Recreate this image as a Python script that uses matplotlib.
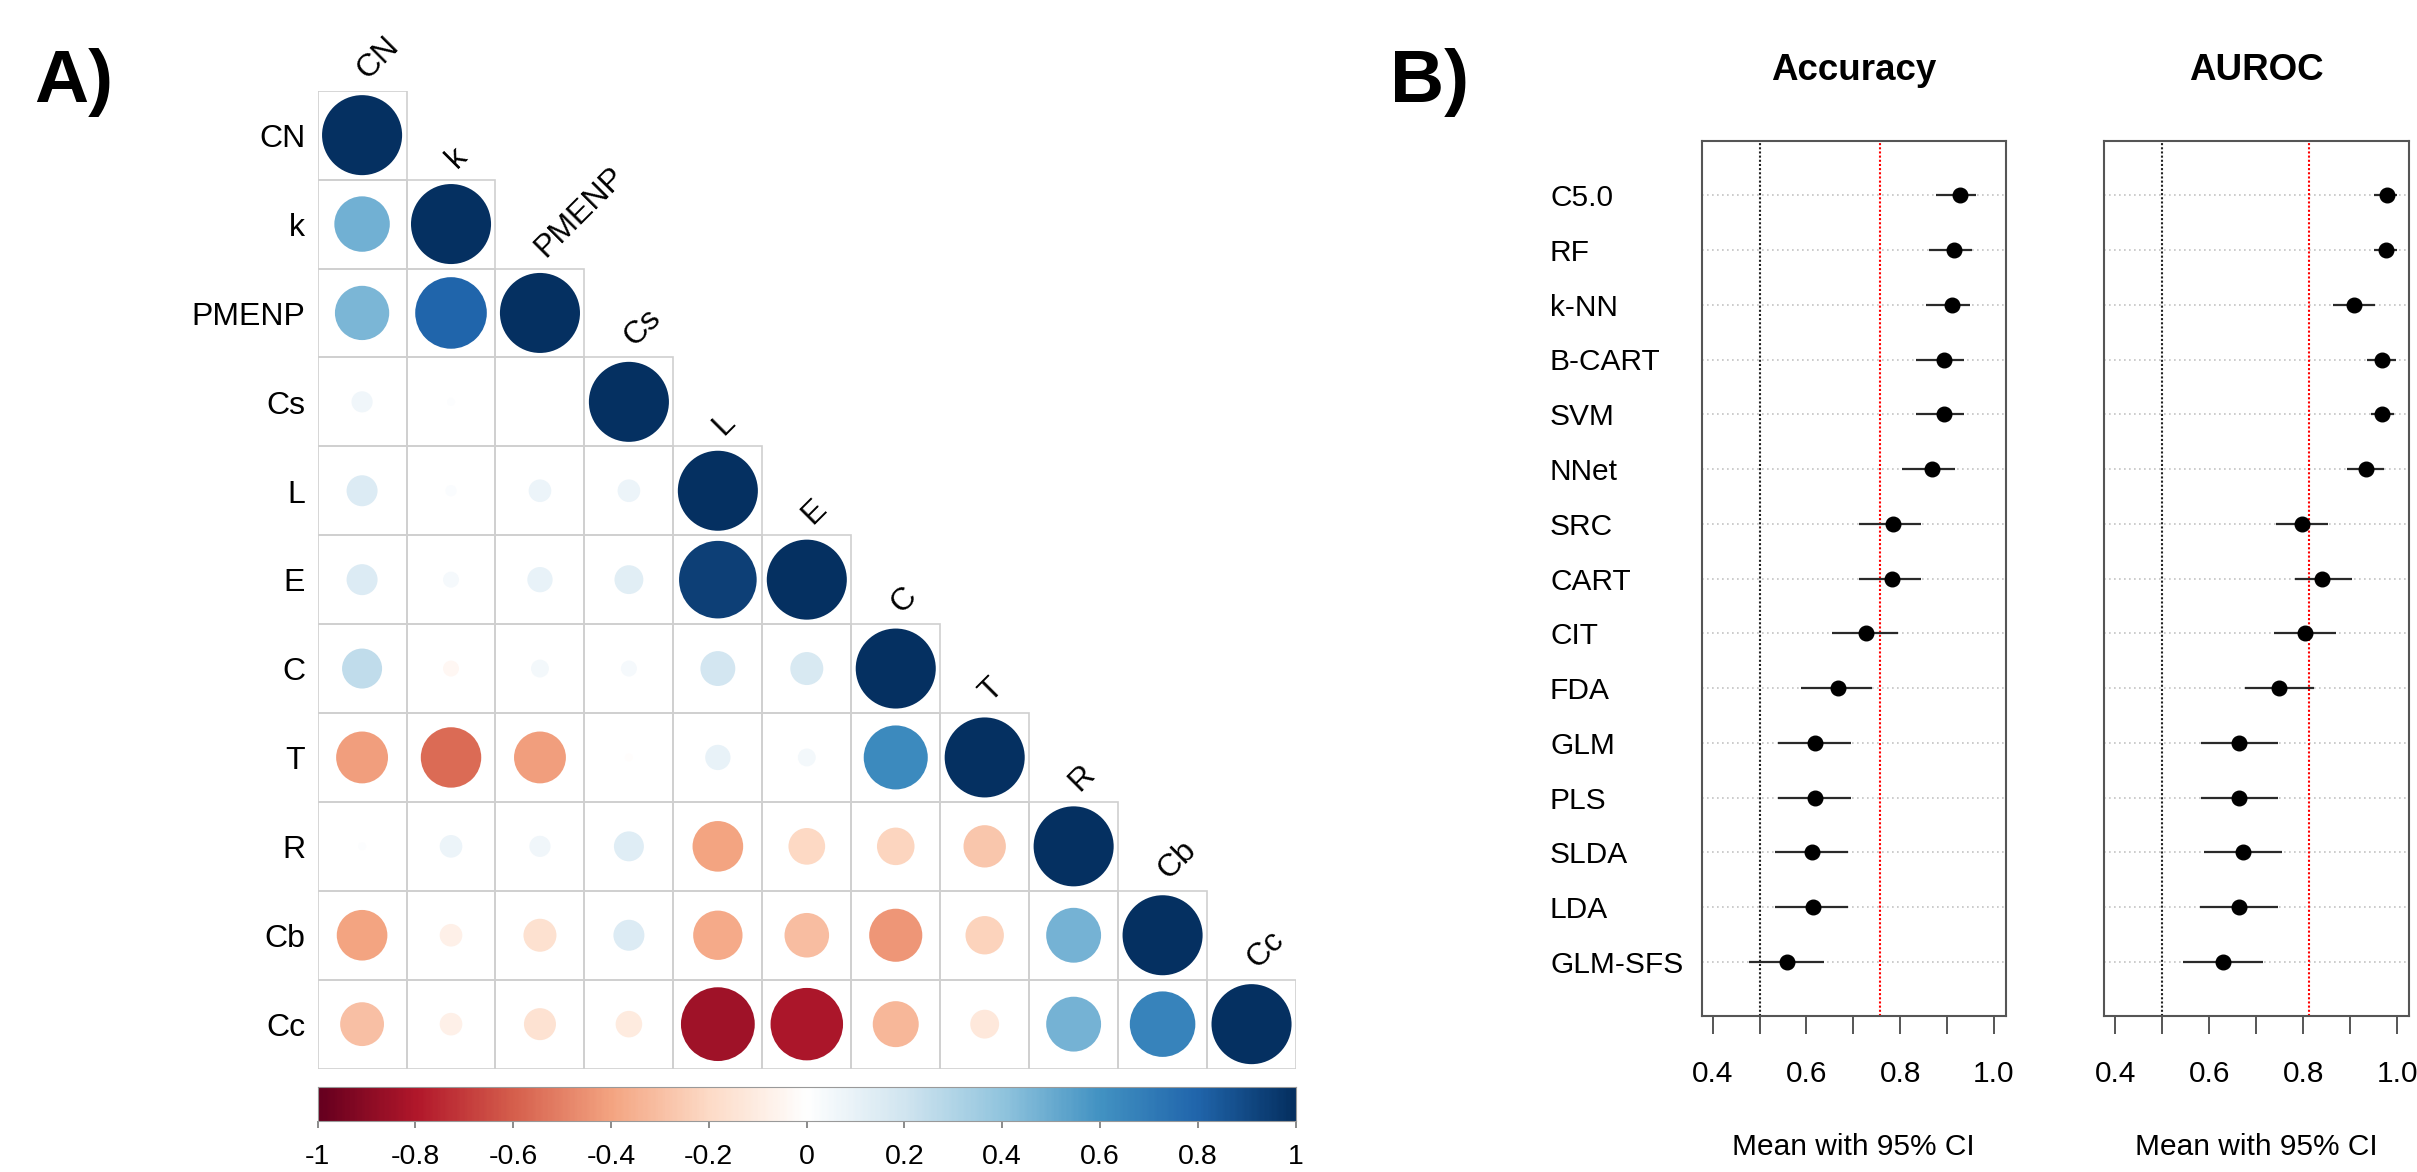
import numpy as np
import matplotlib
matplotlib.use("Agg")
import matplotlib.pyplot as plt
from matplotlib.patches import Circle, Rectangle
from matplotlib.colors import LinearSegmentedColormap
from matplotlib.transforms import blended_transform_factory as blend

# --- datos panel A: matriz de correlación (triángulo inferior) ---
variables = ["CN", "k", "PMENP", "Cs", "L", "E", "C", "T", "R", "Cb", "Cc"]
corr_CN = [1]
corr_k = [0.48, 1]
corr_PMENP = [0.46, 0.80, 1]
corr_Cs = [0.07, 0.01, 0.00, 1]
corr_L = [0.15, 0.02, 0.08, 0.08, 1]
corr_E = [0.15, 0.04, 0.10, 0.13, 0.94, 1]
corr_C = [0.25, -0.04, 0.05, 0.04, 0.19, 0.17, 1]
corr_T = [-0.42, -0.57, -0.42, -0.01, 0.10, 0.05, 0.64, 1]
corr_R = [0.01, 0.08, 0.07, 0.14, -0.40, -0.21, -0.22, -0.28, 1]
corr_Cb = [-0.40, -0.08, -0.17, 0.15, -0.38, -0.31, -0.44, -0.23, 0.47, 1]
corr_Cc = [-0.30, -0.08, -0.16, -0.11, -0.85, -0.82, -0.33, -0.13, 0.47, 0.67, 1]
corr_rows = [corr_CN, corr_k, corr_PMENP, corr_Cs, corr_L, corr_E,
             corr_C, corr_T, corr_R, corr_Cb, corr_Cc]
cbar_ticks = [-1, -0.8, -0.6, -0.4, -0.2, 0, 0.2, 0.4, 0.6, 0.8, 1]
cbar_labels = ["-1", "-0.8", "-0.6", "-0.4", "-0.2", "0", "0.2", "0.4", "0.6", "0.8", "1"]

# --- datos panel B: media e IC 95% ---
modelos = ["C5.0", "RF", "k-NN", "B-CART", "SVM", "NNet", "SRC", "CART",
           "CIT", "FDA", "GLM", "PLS", "SLDA", "LDA", "GLM-SFS"]
acc_mean = [0.927, 0.915, 0.911, 0.893, 0.893, 0.868, 0.784, 0.782, 0.728, 0.668, 0.618, 0.618, 0.613, 0.614, 0.558]
acc_lo = [0.876, 0.862, 0.855, 0.833, 0.833, 0.804, 0.712, 0.712, 0.654, 0.588, 0.540, 0.540, 0.533, 0.533, 0.478]
acc_hi = [0.963, 0.954, 0.949, 0.936, 0.936, 0.917, 0.844, 0.844, 0.796, 0.741, 0.695, 0.695, 0.689, 0.689, 0.637]
auc_mean = [0.979, 0.976, 0.908, 0.967, 0.969, 0.933, 0.797, 0.841, 0.804, 0.749, 0.664, 0.663, 0.671, 0.663, 0.630]
auc_lo = [0.951, 0.952, 0.863, 0.937, 0.945, 0.893, 0.742, 0.782, 0.738, 0.676, 0.582, 0.582, 0.589, 0.580, 0.544]
auc_hi = [1.000, 1.000, 0.953, 0.998, 0.994, 0.973, 0.852, 0.904, 0.870, 0.823, 0.747, 0.747, 0.755, 0.747, 0.715]
acc_ref = 0.757
auc_ref = 0.813
azar = 0.5
x_ticks = [0.4, 0.5, 0.6, 0.7, 0.8, 0.9, 1.0]
x_labels = ["0.4", "", "0.6", "", "0.8", "", "1.0"]

plt.rcParams["font.family"] = ["Liberation Sans", "DejaVu Sans"]

W, H = 2417, 1172
fig = plt.figure(figsize=(W / 100, H / 100), dpi=100)


def caja(l, t, r, b):
    return [l / W, 1 - b / H, (r - l) / W, (b - t) / H]


# paleta RdBu de corrplot
cmap = LinearSegmentedColormap.from_list(
    "rdbu", ["#67001F", "#B2182B", "#D6604D", "#F4A582", "#FDDBC7", "#FFFFFF",
             "#D1E5F0", "#92C5DE", "#4393C3", "#2166AC", "#053061"])

# ================= PANEL A =================
axA = fig.add_axes(caja(317.6, 90.7, 1296, 1068.6))
axA.set_xlim(0.5, 11.5)
axA.set_ylim(11.5, 0.5)
axA.axis("off")

for i, fila in enumerate(corr_rows):
    for j, r in enumerate(fila):
        axA.add_patch(Rectangle((j + 0.5, i + 0.5), 1, 1, fill=False,
                                ec="#cfcfcf", lw=1.2, zorder=1))
        axA.add_patch(Circle((j + 1, i + 1), 0.45 * np.sqrt(abs(r)),
                             color=cmap((r + 1) / 2), lw=0, zorder=2))

for i, nombre in enumerate(variables):
    axA.text(0.36, i + 1 + 0.133, nombre, ha="right", va="baseline", fontsize=23)
    axA.text(i + 1, i + 1 - 0.5 - 0.18, nombre, rotation=45, ha="left",
             va="center", rotation_mode="anchor", fontsize=23)

# barra de color
axC = fig.add_axes(caja(317.5, 1086.7, 1295.5, 1121))
grad = np.linspace(-1, 1, 400).reshape(1, -1)
axC.imshow(grad, cmap=cmap, vmin=-1, vmax=1, aspect="auto", extent=(-1, 1, 0, 1))
axC.set_xlim(-1, 1)
axC.set_yticks([])
axC.set_xticks(cbar_ticks)
axC.set_xticklabels([])
axC.tick_params(axis="x", length=5, width=1.2, color="#777777")
for s in axC.spines.values():
    s.set_color("#999999")
    s.set_linewidth(0.8)
tr = blend(axC.transData, fig.transFigure)
for t, lab in zip(cbar_ticks, cbar_labels):
    axC.text(t, 1 - 1164 / H, lab, transform=tr, ha="center", va="baseline", fontsize=20.5)

fig.text(34 / W, 1 - 102 / H, "A)", fontsize=54, fontweight="bold", va="baseline")

# ================= PANEL B =================
ys = np.arange(len(modelos), 0, -1)
paneles = [
    (caja(1701.7, 141, 2005.7, 1015.7), "Accuracy", acc_mean, acc_lo, acc_hi, acc_ref),
    (caja(2104.3, 141, 2409, 1015.7), "AUROC", auc_mean, auc_lo, auc_hi, auc_ref),
]
ejes = []
for rect, titulo, media, lo, hi, ref in paneles:
    ax = fig.add_axes(rect)
    ax.set_xlim(0.3765, 1.0255)
    ax.set_ylim(0.02, 15.99)
    for y in ys:
        ax.axhline(y, color="#c4c4c4", ls=(0, (1, 2)), lw=1.2, zorder=1)
    ax.axvline(azar, color="#222222", ls=(0, (1, 1)), lw=1.5, zorder=2)
    ax.axvline(ref, color="red", ls=(0, (1, 1)), lw=1.5, zorder=2)
    ax.hlines(ys, lo, hi, color="#2a2a2a", lw=1.6, zorder=3)
    ax.plot(media, ys, "o", color="black", ms=10.5, zorder=4)
    ax.set_yticks([])
    ax.set_xticks(x_ticks)
    ax.set_xticklabels(x_labels)
    ax.tick_params(axis="x", length=13, width=1.4, color="#555555", pad=19, labelsize=21.5)
    for s in ax.spines.values():
        s.set_color("#555555")
        s.set_linewidth(1.5)
    tb = blend(ax.transAxes, fig.transFigure)
    ax.text(0.5, 1 - 80 / H, titulo, transform=tb, ha="center", va="baseline",
            fontsize=26.5, fontweight="bold")
    ax.text(0.5, 1 - 1155 / H, "Mean with 95% CI", transform=tb, ha="center",
            va="baseline", fontsize=21.5)
    ejes.append(ax)

ty = blend(fig.transFigure, ejes[0].transData)
for y, nombre in zip(ys, modelos):
    ejes[0].text(1550 / W, y - 0.2, nombre, transform=ty, ha="left", va="baseline", fontsize=21.5)

fig.text(1390 / W, 1 - 102 / H, "B)", fontsize=54, fontweight="bold", va="baseline")

fig.savefig("out.png", dpi=100)
